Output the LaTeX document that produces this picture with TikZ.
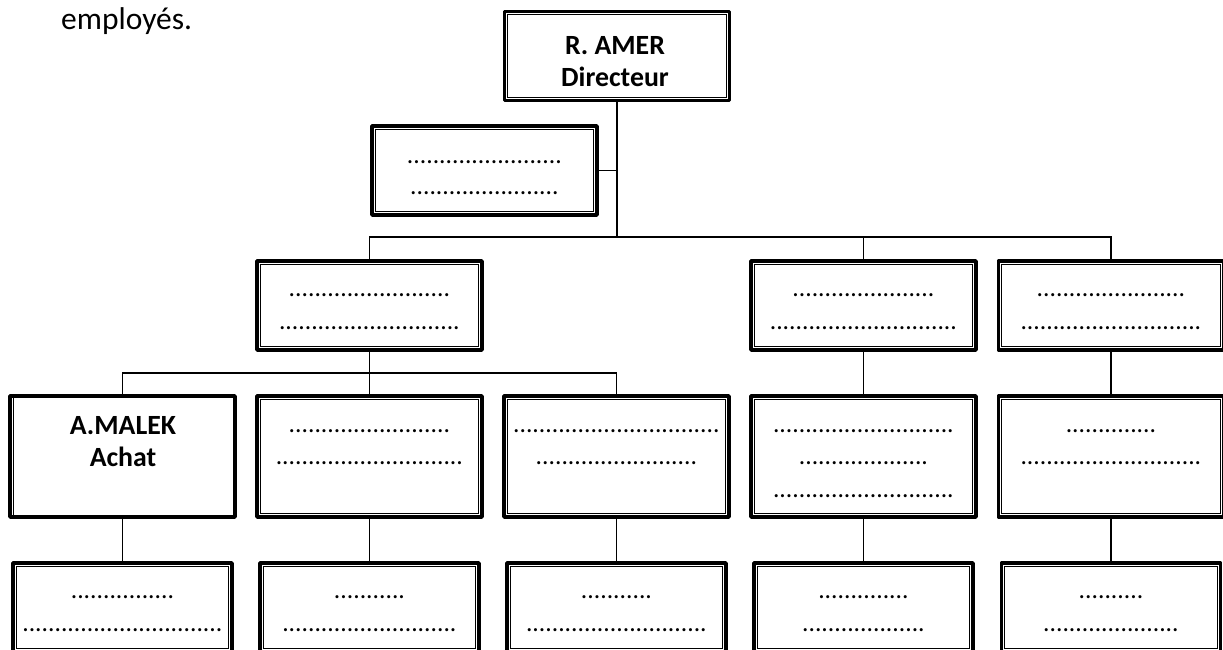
\documentclass[tikz,border=0pt]{standalone}
\usepackage{fontspec}
\setmainfont{Carlito}
\newcommand\dotrow[1]{\foreach\i in {1,...,#1}{.}}
\begin{document}
\begin{tikzpicture}[x=1pt,y=-1pt,
  obox/.style={draw=black, line width=3.6pt, line join=round, inner sep=0pt,
    minimum width=225pt, minimum height=89pt},
  tallbox/.style={obox, minimum height=121pt},
  lowbox/.style={obox, minimum width=219pt},
  dotsf/.style={font=\fontsize{25.6}{30}\selectfont, anchor=base, inner sep=0pt},
  boldf/.style={font=\fontsize{27.8}{32}\selectfont\bfseries, anchor=base, inner sep=0pt},
  conn/.style={line width=1.1pt},
  innerline/.style={line width=1pt}]
\useasboundingbox (0,0) rectangle (1223,650);
\clip (0,0) rectangle (1223,650);
\fill[white] (0,0) rectangle (1223,650);

\node[font=\fontsize{31.5}{36}\selectfont, anchor=base west, inner sep=0pt] (head) at (61,30) {employés.};

% boxes
\node[obox] (dir) at (617,56) {};
\node[obox] (asst) at (484.5,170.5) {};
\node[obox] (a2) at (369.5,305.5) {};
\node[obox] (b2) at (863.5,305.5) {};
\node[obox] (c2) at (1111,305.5) {};
\node[tallbox] (m1) at (122.5,456.5) {};
\node[tallbox] (m2) at (369.5,456.5) {};
\node[tallbox] (m3) at (616.5,456.5) {};
\node[tallbox] (m4) at (863.5,456.5) {};
\node[tallbox] (m5) at (1111,456.5) {};
\node[lowbox] (n1) at (122.5,607.5) {};
\node[lowbox] (n2) at (369.5,607.5) {};
\node[lowbox] (n3) at (616.5,607.5) {};
\node[lowbox] (n4) at (863.5,607.5) {};
\node[lowbox] (n5) at (1111,607.5) {};

\foreach \n in {dir,asst,a2,b2,c2,m2,m3,m4,m5,n1,n2,n3,n4,n5}
  \draw[innerline] ([shift={(5pt,-5pt)}]\n.north west) rectangle ([shift={(-5pt,5pt)}]\n.south east);
\draw[innerline] ([shift={(4.8pt,-1pt)}]m1.north west) -- ([shift={(4.8pt,1pt)}]m1.south west);

% texts
\node[boldf] (dirt1) at (615,55) {R. AMER};
\node[boldf] (dirt2) at (615,86.5) {Directeur};
\node[dotsf] (asst1) at (484.5,163) {\dotrow{24}};
\node[dotsf] (asst2) at (484.5,194.5) {\dotrow{23}};
\node[dotsf] (a2t1) at (369.5,296) {\dotrow{25}};
\node[dotsf] (a2t2) at (369.5,329.5) {\dotrow{28}};
\node[dotsf] (b2t1) at (863.5,296) {\dotrow{22}};
\node[dotsf] (b2t2) at (863.5,329.5) {\dotrow{29}};
\node[dotsf] (c2t1) at (1111,296) {\dotrow{23}};
\node[dotsf] (c2t2) at (1111,329.5) {\dotrow{28}};
\node[boldf] (m1t1) at (123,434) {A.MALEK};
\node[boldf] (m1t2) at (123,466) {Achat};
\node[dotsf] (m2t1) at (369.5,432) {\dotrow{25}};
\node[dotsf] (m2t2) at (369.5,464.5) {\dotrow{29}};
\node[dotsf] (m3t1) at (616.5,432) {\dotrow{32}};
\node[dotsf] (m3t2) at (616.5,464.5) {\dotrow{25}};
\node[dotsf] (m4t1) at (863.5,432) {\dotrow{28}};
\node[dotsf] (m4t2) at (863.5,464.5) {\dotrow{20}};
\node[dotsf] (m4t3) at (863.5,497) {\dotrow{28}};
\node[dotsf] (m5t1) at (1111,432) {\dotrow{14}};
\node[dotsf] (m5t2) at (1111,464.5) {\dotrow{28}};
\node[dotsf] (n1t1) at (122.5,598.5) {\dotrow{16}};
\node[dotsf] (n1t2) at (122.5,631) {\dotrow{31}};
\node[dotsf] (n2t1) at (369.5,598.5) {\dotrow{11}};
\node[dotsf] (n2t2) at (369.5,631) {\dotrow{27}};
\node[dotsf] (n3t1) at (616.5,598.5) {\dotrow{11}};
\node[dotsf] (n3t2) at (616.5,631) {\dotrow{28}};
\node[dotsf] (n4t1) at (863.5,598.5) {\dotrow{14}};
\node[dotsf] (n4t2) at (863.5,631) {\dotrow{19}};
\node[dotsf] (n5t1) at (1111,598.5) {\dotrow{10}};
\node[dotsf] (n5t2) at (1111,631) {\dotrow{21}};

% connectors
\coordinate (j0) at (617,237);
\coordinate (j1) at (369.5,373);
\draw[conn] (dir.south) -- (j0);
\draw[conn] (asst.east) -- (asst.east -| j0);
\draw[conn] (a2.north) |- (j0) -| (c2.north);
\draw[conn] (b2.north) -- (b2.north |- j0);
\draw[conn] (a2.south) -- (m2.north);
\draw[conn] (m1.north) |- (j1) -| (m3.north);
\draw[conn] (b2.south) -- (m4.north);
\draw[conn] (c2.south) -- (m5.north);
\draw[conn] (m1.south) -- (n1.north);
\draw[conn] (m2.south) -- (n2.north);
\draw[conn] (m3.south) -- (n3.north);
\draw[conn] (m4.south) -- (n4.north);
\draw[conn] (m5.south) -- (n5.north);
\end{tikzpicture}
\end{document}
